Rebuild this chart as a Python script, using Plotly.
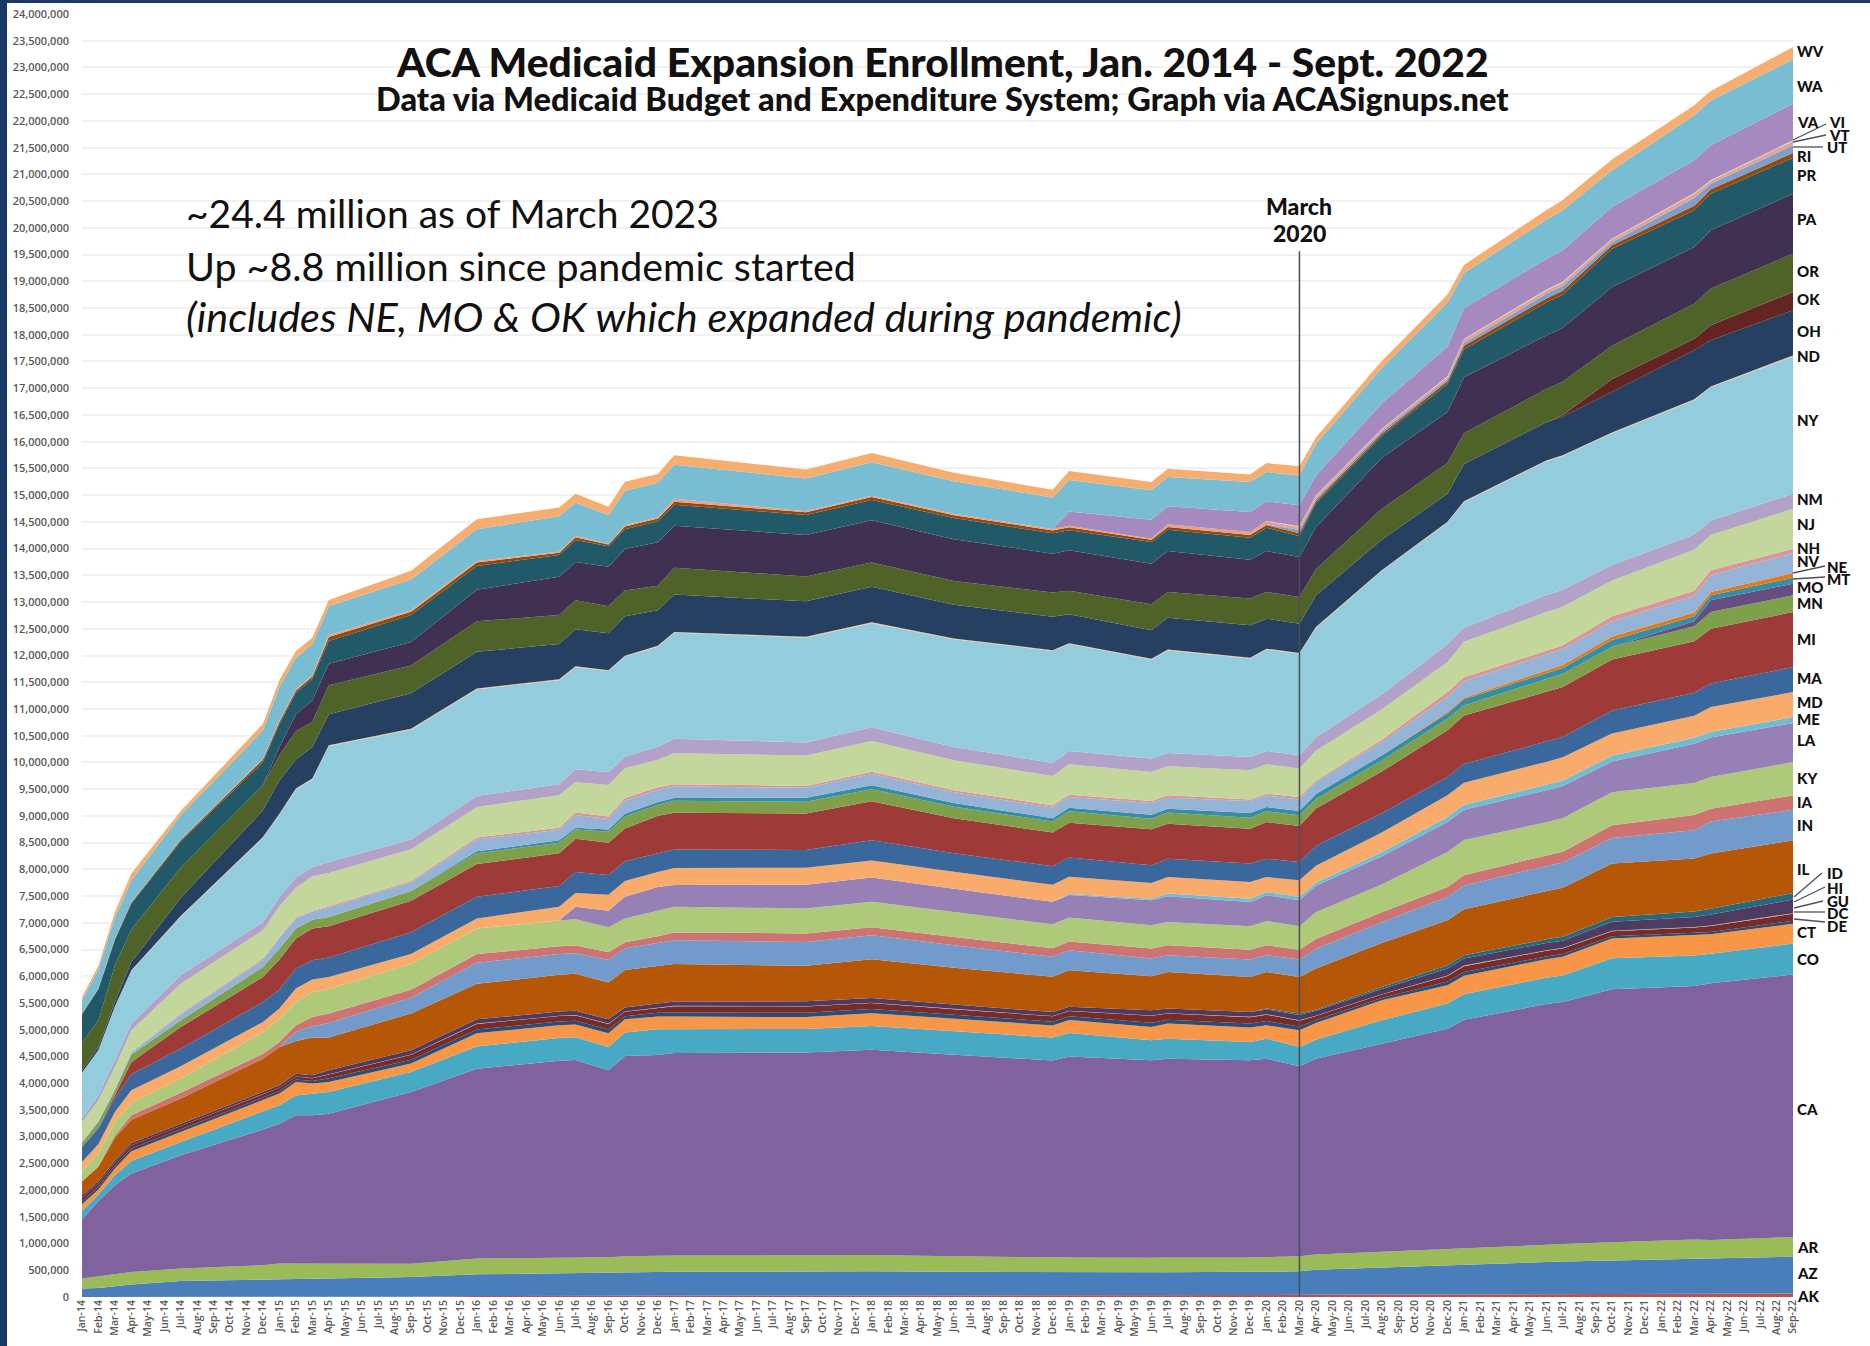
"""
ACA Medicaid Expansion Enrollment, stacked by state, Jan. 2014 - Sept. 2022
Values are in thousands, read off the picture at the months where the outline bends.
"""

import plotly.graph_objects as go

# Month axis
MONTH_NAMES = ["Jan", "Feb", "Mar", "Apr", "May", "Jun", "Jul", "Aug", "Sep", "Oct", "Nov", "Dec"]
MONTHS = [f"{m}-{y}" for y in range(14, 23) for m in MONTH_NAMES][:105]

# Months that were read (the area runs straight between them)
READ_AT = ["Jan-14", "Feb-14", "Mar-14", "Apr-14", "Jul-14", "Dec-14", "Jan-15", "Feb-15", "Mar-15", "Apr-15",
           "Sep-15", "Jan-16", "Jun-16", "Jul-16", "Sep-16", "Oct-16", "Dec-16", "Jan-17", "Sep-17", "Jan-18",
           "Jun-18", "Dec-18", "Jan-19", "Jun-19", "Jul-19", "Dec-19", "Jan-20", "Mar-20", "Apr-20", "Aug-20",
           "Dec-20", "Jan-21", "Jun-21", "Jul-21", "Oct-21", "Mar-22", "Apr-22", "Sep-22"]

# Enrollment by state, bottom of the stack first (thousands)
AK = [2, 2, 2, 2, 2, 2, 2, 2, 2, 2, 3, 20, 25, 25, 25, 25, 25, 30, 30, 30, 30, 30, 30, 35, 35, 35, 35, 40, 40, 45, 50, 50, 55, 55, 55, 60, 60, 65]
AZ = [155, 166, 198, 230, 297, 323, 329, 342, 342, 342, 371, 405, 415, 415, 420, 435, 440, 440, 445, 450, 440, 435, 440, 430, 430, 435, 440, 440, 470, 510, 545, 560, 605, 610, 630, 660, 660, 690]
AR = [187, 219, 225, 236, 232, 268, 294, 281, 281, 280, 250, 293, 290, 290, 300, 300, 305, 305, 305, 305, 290, 270, 270, 270, 275, 270, 270, 280, 285, 295, 300, 310, 325, 325, 340, 355, 346, 366]
CA = [1104, 1409, 1664, 1840, 2119, 2538, 2618, 2774, 2774, 2806, 3211, 3554, 3690, 3705, 3495, 3746, 3758, 3790, 3792, 3840, 3770, 3690, 3760, 3693, 3719, 3688, 3714, 3555, 3664, 3890, 4125, 4264, 4495, 4530, 4733, 4743, 4804, 4910]
CO = [161, 120, 188, 236, 249, 329, 343, 370, 400, 405, 374, 412, 426, 425, 436, 443, 481, 444, 440, 445, 440, 430, 440, 374, 374, 342, 374, 361, 351, 436, 468, 480, 490, 495, 580, 572, 553, 580]
CT = [125, 93, 125, 181, 187, 219, 219, 253, 193, 187, 157, 250, 236, 237, 258, 245, 236, 236, 225, 240, 230, 225, 240, 248, 281, 269, 249, 312, 315, 374, 342, 345, 350, 350, 370, 380, 361, 372]
DE = [55, 52, 52, 52, 52, 51, 47, 47, 47, 68, 70, 70, 70, 70, 70, 60, 70, 75, 80, 79, 80, 70, 70, 80, 74, 75, 80, 70, 55, 45, 70, 70, 50, 50, 40, 40, 45, 55]
DC = [70, 60, 60, 60, 60, 60, 60, 55, 55, 70, 95, 105, 103, 101, 105, 81, 92, 120, 118, 110, 105, 100, 100, 130, 115, 120, 120, 110, 75, 62, 105, 110, 105, 105, 95, 100, 110, 130]
GU = [3, 3, 3, 3, 3, 3, 3, 3, 3, 5, 5, 5, 5, 5, 5, 5, 5, 6, 6, 6, 5, 5, 5, 8, 7, 7, 8, 8, 8, 8, 9, 10, 10, 10, 10, 10, 10, 12]
HI = [40, 40, 40, 40, 42, 42, 45, 50, 50, 75, 80, 80, 80, 82, 80, 75, 78, 80, 90, 90, 80, 75, 75, 95, 85, 90, 90, 100, 90, 95, 130, 135, 135, 135, 165, 190, 205, 255]
ID = [0] * 26 + [15, 25, 20, 40, 60, 60, 70, 75, 90, 100, 110, 120]
IL = [258, 271, 424, 438, 468, 624, 716, 611, 705, 612, 689, 664, 689, 690, 687, 703, 701, 703, 665, 725, 690, 660, 680, 636, 684, 655, 684, 685, 772, 820, 842, 860, 900, 915, 1000, 994, 1030, 985]
IN = [0] * 7 + [169, 211, 274, 295, 393, 385, 385, 421, 406, 429, 443, 444, 445, 420, 375, 375, 331, 313, 325, 313, 325, 370, 390, 436, 445, 470, 475, 477, 525, 600, 574]
IA = [10, 15, 43, 81, 110, 93, 94, 125, 175, 175, 148, 163, 146, 145, 147, 111, 127, 148, 162, 150, 155, 160, 165, 187, 187, 187, 187, 187, 180, 185, 187, 190, 200, 200, 239, 286, 241, 269]
KY = [187, 232, 249, 230, 264, 405, 438, 436, 467, 460, 481, 479, 482, 490, 466, 443, 479, 481, 466, 480, 465, 450, 450, 436, 435, 436, 454, 436, 500, 520, 655, 660, 620, 625, 620, 600, 592, 623]
LA = [0] * 13 + [236, 311, 408, 445, 405, 443, 450, 435, 420, 420, 467, 481, 455, 481, 486, 499, 530, 561, 565, 600, 605, 573, 736, 737, 730]
ME = [0] * 22 + [20, 32, 51, 63, 62, 62, 62, 75, 93, 95, 100, 100, 110, 110, 104, 112]
MD = [168, 180, 187, 237, 230, 187, 187, 251, 232, 225, 185, 185, 259, 258, 297, 295, 281, 318, 318, 320, 320, 315, 320, 292, 310, 311, 280, 312, 312, 370, 406, 410, 430, 435, 415, 414, 468, 468]
MA = [281, 299, 251, 300, 331, 374, 355, 374, 361, 363, 408, 408, 385, 393, 369, 369, 348, 348, 333, 380, 345, 350, 360, 331, 344, 344, 344, 343, 375, 360, 343, 350, 380, 380, 429, 430, 438, 468]
MI = [0, 0, 62, 230, 404, 468, 561, 561, 593, 585, 589, 613, 614, 621, 606, 615, 701, 688, 681, 730, 655, 630, 650, 673, 655, 654, 685, 673, 697, 780, 873, 907, 930, 935, 954, 961, 1028, 1029]
MN = [78, 114, 90, 138, 126, 186, 206, 187, 168, 174, 185, 201, 198, 170, 207, 221, 207, 221, 221, 225, 215, 205, 215, 200, 206, 206, 200, 200, 176, 205, 219, 190, 240, 245, 239, 280, 311, 312]
MO = [0] * 35 + [95, 219, 218]
MT = [0] * 11 + [37, 45, 35, 38, 52, 51, 53, 75, 75, 70, 60, 65, 75, 74, 86, 81, 81, 94, 95, 100, 114, 110, 110, 124, 95, 93, 112]
NE = [0] * 30 + [24, 30, 50, 55, 67, 67, 62, 87]
NV = [15, 30, 35, 40, 110, 135, 200, 190, 150, 175, 160, 220, 197, 238, 198, 243, 230, 218, 185, 210, 200, 200, 205, 217, 206, 225, 213, 213, 217, 250, 281, 315, 300, 300, 286, 315, 312, 374]
NH = [0, 0, 0, 10, 15, 23, 17, 16, 16, 25, 25, 38, 38, 45, 45, 53, 45, 40, 37, 40, 40, 40, 40, 38, 43, 26, 37, 49, 31, 45, 93, 66, 70, 70, 95, 95, 94, 81]
NJ = [374, 374, 404, 405, 561, 529, 574, 561, 644, 623, 593, 569, 608, 568, 591, 555, 516, 578, 569, 575, 560, 550, 570, 542, 543, 548, 548, 531, 562, 565, 561, 668, 720, 720, 669, 764, 660, 748]
NM = [64, 94, 125, 126, 155, 156, 174, 187, 174, 206, 183, 207, 206, 243, 238, 221, 245, 273, 243, 260, 250, 245, 250, 251, 249, 249, 249, 249, 249, 280, 334, 258, 320, 320, 286, 286, 270, 281]
NY = [853, 841, 998, 982, 1093, 1574, 1545, 1650, 1639, 2168, 2056, 1996, 1947, 1910, 1893, 1870, 1871, 1982, 1961, 1945, 2015, 2095, 2000, 1855, 1919, 1844, 1900, 1898, 2047, 2310, 2275, 2352, 2502, 2500, 2466, 2514, 2493, 2564]
ND = [5, 6, 10] + [15] * 34 + [24]
OH = [45, 56, 83, 155, 344, 500, 623, 546, 591, 580, 664, 686, 662, 694, 693, 740, 664, 700, 664, 665, 630, 625, 540, 529, 598, 604, 561, 550, 592, 570, 525, 700, 716, 720, 763, 916, 864, 843]
OK = [0] * 33 + [30, 239, 219, 281, 342]
OR = [511, 500, 686, 606, 560, 467, 468, 529, 467, 542, 519, 571, 541, 541, 504, 480, 458, 503, 465, 455, 445, 455, 440, 487, 479, 500, 498, 497, 492, 577, 572, 573, 620, 625, 620, 654, 686, 718]
PA = [0] * 6 + [155, 312, 406, 406, 443, 591, 716, 716, 738, 776, 814, 784, 777, 790, 780, 725, 760, 761, 767, 729, 767, 749, 785, 953, 955, 1050, 1002, 1010, 1098, 1059, 1091, 1122]
PR = [537, 585, 480, 486, 490, 436, 424, 405, 406, 423, 503, 443, 408, 414, 384, 371, 393, 393, 372, 380, 395, 380, 375, 404, 400, 411, 438, 387, 448, 410, 525, 524, 620, 620, 715, 687, 686, 674]
RI = [10, 10, 15, 20, 30, 48, 50, 45, 42, 76, 60, 66, 43, 52, 35, 53, 54, 55, 53, 55, 55, 55, 55, 44, 50, 50, 48, 60, 40, 45, 50, 65, 75, 75, 65, 87, 85, 87]
UT = [0] * 26 + [10, 60, 40, 45, 45, 50, 85, 85, 60, 143, 100, 143]
VT = [3, 3, 5, 10, 10, 15, 25, 18, 20, 30, 28, 30, 15, 20, 10, 20, 20, 55, 20, 25, 25, 25, 25, 20, 49, 56, 60, 60, 55, 40, 40, 65, 65, 66, 55, 81, 54, 81]
VI = [0] * 26 + [5, 8, 8, 6, 8, 11, 14, 14, 11, 13, 10, 13]
VA = [0] * 22 + [270, 355, 337, 373, 369, 393, 374, 475, 560, 573, 573, 590, 590, 611, 655, 686]
WA = [249, 356, 396, 406, 455, 530, 623, 591, 580, 548, 578, 593, 666, 622, 541, 648, 647, 636, 613, 625, 610, 590, 590, 548, 548, 562, 548, 555, 597, 662, 820, 661, 734, 750, 690, 842, 841, 824]
WV = [62, 70, 102, 126, 75, 125, 125, 126, 125, 113, 162, 185, 163, 170, 155, 165, 165, 178, 165, 171, 160, 145, 165, 156, 157, 143, 168, 174, 118, 130, 150, 150, 179, 190, 200, 187, 174, 235]

SERIES = [
    ("AK", AK, "#C0504D"), ("AZ", AZ, "#4A7EBB"), ("AR", AR, "#9BBB59"), ("CA", CA, "#7F629E"),
    ("CO", CO, "#47A9C4"), ("CT", CT, "#F79646"), ("DE", DE, "#2C4D75"), ("DC", DC, "#772C2A"),
    ("GU", GU, "#C9A98A"), ("HI", HI, "#4D3B62"), ("ID", ID, "#276A7C"), ("IL", IL, "#B65708"),
    ("IN", IN, "#729ACA"), ("IA", IA, "#CD7371"), ("KY", KY, "#AFC97A"), ("LA", LA, "#9680B5"),
    ("ME", ME, "#6FBDD1"), ("MD", MD, "#F9AB6B"), ("MA", MA, "#3A679C"), ("MI", MI, "#9E3A38"),
    ("MN", MN, "#7FA04A"), ("MO", MO, "#664D82"), ("MT", MT, "#358EA6"), ("NE", NE, "#E07B1C"),
    ("NV", NV, "#95B3D7"), ("NH", NH, "#D99694"), ("NJ", NJ, "#C3D69B"), ("NM", NM, "#B3A2C7"),
    ("NY", NY, "#93CDDD"), ("ND", ND, "#FAC090"), ("OH", OH, "#254061"), ("OK", OK, "#632423"),
    ("OR", OR, "#4F6228"), ("PA", PA, "#403152"), ("PR", PR, "#215968"), ("RI", RI, "#984807"),
    ("UT", UT, "#7BA0CD"), ("VT", VT, "#E6A090"), ("VI", VI, "#D7E4BC"), ("VA", VA, "#A68ABF"),
    ("WA", WA, "#78BDD2"), ("WV", WV, "#F6AD70"),
]

# Page geometry in pixels
W, H = 1870, 1346
LEFT, RIGHT, TOP, BOTTOM = 82, 1793, 14, 1297


def px(x):
    return (x - LEFT) / (RIGHT - LEFT)


def py(y):
    return 1 - (y - TOP) / (BOTTOM - TOP)


fig = go.Figure()

for name, values, color in SERIES:
    assert len(values) == len(READ_AT), name
    fig.add_trace(go.Scatter(x=READ_AT, y=[v * 1000 for v in values], name=name, mode="lines",
                             stackgroup="one", line=dict(width=0, color=color), fillcolor=color,
                             showlegend=False))

fig.update_layout(
    width=W, height=H,
    margin=dict(l=LEFT, r=W - RIGHT, t=TOP, b=H - BOTTOM),
    paper_bgcolor="white", plot_bgcolor="white",
    font=dict(family="Lato", color="#111111"),
    xaxis=dict(type="category", categoryorder="array", categoryarray=MONTHS, range=[0, 104], automargin=False,
               tickmode="array", tickvals=MONTHS, ticktext=MONTHS, tickangle=-90,
               tickfont=dict(family="Open Sans", size=10.5, color="#595959", weight=600),
               showgrid=False, ticks="", zeroline=False, showline=False),
    yaxis=dict(range=[0, 24000000], dtick=500000, tickformat=",", showgrid=True, gridcolor="#F1F1F1", gridwidth=1.5,
               tickfont=dict(family="Open Sans", size=11, color="#595959", weight=600), automargin=False,
               ticks="", ticklabelstandoff=12, zeroline=False, showline=False),
)

# March 2020 marker, through the stack
fig.add_shape(type="line", x0="Mar-20", x1="Mar-20", y0=0, y1=19560000, xref="x", yref="y",
              line=dict(color="#4A4F57", width=1.5))

# Navy frame of the slide at the left and top
FRAME = "#1A3A66"
fig.add_shape(type="rect", xref="paper", yref="paper", x0=px(0), x1=px(7), y0=py(0), y1=py(H),
              fillcolor=FRAME, line_width=0)
fig.add_shape(type="rect", xref="paper", yref="paper", x0=px(0), x1=px(W), y0=py(0), y1=py(3),
              fillcolor=FRAME, line_width=0)


def text(x, y, s, size, anchor="left", weight=400, italic=False):
    fig.add_annotation(x=px(x), y=py(y), xref="paper", yref="paper", text=s, showarrow=False,
                       xanchor=anchor, yanchor="middle", align="center",
                       font=dict(size=size, color="#111111", family="Lato", weight=weight,
                                 style="italic" if italic else "normal"))


# Titles and note
text(942, 61, "ACA Medicaid Expansion Enrollment, Jan. 2014 - Sept. 2022", 40.8, "center", 900)
text(942, 99, "Data via Medicaid Budget and Expenditure System; Graph via ACASignups.net", 32.6, "center", 900)
text(184, 213, "~24.4 million as of March 2023", 39)
text(184, 265, "Up ~8.8 million since pandemic started", 39.4)
text(184, 316, "(includes NE, MO &amp; OK which expanded during pandemic)", 41.4, italic=True)
text(1299, 206, "March", 23, "center", 900)
text(1299, 233, "2020", 23, "center", 900)

# State labels next to the right edge
EDGE_LABELS = ["WV", "WA", "VA", "RI", "PR", "PA", "OR", "OK", "OH", "ND", "NY", "NM", "NJ", "NH", "NV", "MO", "MN",
               "MI", "MA", "MD", "ME", "LA", "KY", "IA", "IN", "IL", "CT", "CO", "CA", "AR", "AZ", "AK"]
EDGE_Y = [51, 86, 122, 156, 175, 219, 271, 299, 331, 356, 420, 499, 524, 548, 561, 587, 603,
          639, 678, 702, 719, 740, 778, 802, 825, 869, 932, 959, 1109, 1247, 1273, 1296]
for label, y in zip(EDGE_LABELS, EDGE_Y):
    text(1795, y, label, 15, weight=900)

# Thin bands get a leader line out to a label further right
LEADERS = [("VI", 1827, 122, 1793, 140, 1826, 124), ("VT", 1827, 135, 1793, 142, 1826, 135),
           ("UT", 1825, 147, 1793, 147, 1823, 147), ("NE", 1825, 567, 1793, 573, 1825, 566),
           ("MT", 1825, 579, 1793, 579, 1825, 577), ("ID", 1825, 873, 1794, 897, 1822, 873),
           ("HI", 1825, 888, 1794, 902, 1825, 887), ("GU", 1825, 901, 1794, 908, 1823, 901),
           ("DC", 1825, 913, 1794, 912, 1825, 912), ("DE", 1825, 926, 1794, 919, 1825, 922)]
for label, tx, ty, x0, y0, x1, y1 in LEADERS:
    text(tx, ty, label, 15, weight=900)
    fig.add_shape(type="line", xref="paper", yref="paper", x0=px(x0), y0=py(y0), x1=px(x1), y1=py(y1),
                  line=dict(color="#4A5060", width=1.3))

fig.write_html("out.html", config={"displayModeBar": False}, post_script="document.body.style.margin='0';")
